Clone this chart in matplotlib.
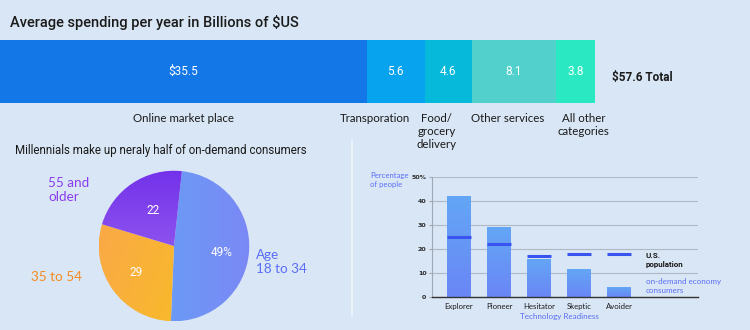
import numpy as np
import matplotlib
matplotlib.use("Agg")
import matplotlib.pyplot as plt
from matplotlib.colors import to_rgb

# spending per year, billions of $US
spend_labels = ["Online market place", "Transporation", "Food/\ngrocery\ndelivery",
                "Other services", "All other\ncategories"]
spend_values = [35.5, 5.6, 4.6, 8.1, 3.8]
spend_text = ["$35.5", "5.6", "4.6", "8.1", "3.8"]
spend_colors = ["#1477e8", "#08a3ee", "#06b8da", "#52d0cc", "#2ae8c2"]
# small sideways nudges so neighbouring captions don't collide
label_shift = [0, -2.0, -1.1, -0.6, 0.8]

# on-demand consumers by age
age_groups = ["Age\n18 to 34", "35 to 54", "55 and\nolder"]
age_shares = [49, 29, 22]
age_text = ["49%", "29", "22"]

# technology readiness
readiness = ["Explorer", "Pioneer", "Hesitator", "Skeptic", "Avoider"]
consumers = [42, 29, 15.5, 11.5, 4]
us_population = [25, 22, 17, 18, 18]

BG = "#d9e6f5"
W, H = 750, 330

fig = plt.figure(figsize=(7.5, 3.3), dpi=100, facecolor=BG)


def fx(x):
    return x / W


def fy(y):
    return 1 - y / H


def box(x0, y0, x1, y1):
    return [fx(x0), fy(y1), (x1 - x0) / W, (y1 - y0) / H]


def gradient(c1, c2, angle, n=200):
    # linear blend from c1 to c2 along the given direction (degrees)
    a = np.deg2rad(angle)
    xs, ys = np.meshgrid(np.linspace(-1, 1, n), np.linspace(-1, 1, n))
    t = (xs * np.cos(a) + ys * np.sin(a))
    t = (t - t.min()) / (t.max() - t.min())
    c1, c2 = np.array(to_rgb(c1)), np.array(to_rgb(c2))
    return c1 + (c2 - c1) * t[..., None]


# ---- stacked spending bar ----
fig.text(fx(10), fy(22), "Average spending per year in Billions of $US",
         fontsize=10.5, family="Roboto", weight="medium", color="#1a1a1a", va="center")

total = sum(spend_values)
axb = fig.add_axes(box(0, 40, 595, 103))
axb.set_facecolor(BG)
left = 0
for val, txt, lab, col, dx in zip(spend_values, spend_text, spend_labels,
                                  spend_colors, label_shift):
    axb.barh(0, val, left=left, height=1, color=col, edgecolor="none")
    mid = left + val / 2
    axb.text(mid, 0, txt, ha="center", va="center", color="white",
             fontsize=8.5, family="Roboto")
    axb.text(mid + dx, -0.66, lab, ha="center", va="top", multialignment="center",
             color="#1a1a1a", fontsize=8.3, family="Lato", linespacing=1.2,
             clip_on=False)
    left += val
axb.set_xlim(0, total)
axb.set_ylim(-0.5, 0.5)
axb.axis("off")
fig.text(fx(612), fy(77), f"${total:.1f} Total", fontsize=8.5, family="Roboto",
         weight="bold", color="#1a1a1a", va="center")

# divider between lower panels
fig.add_artist(plt.Line2D([fx(352), fx(352)], [fy(140), fy(316)],
                          color="#eef4fb", lw=1.2))

# ---- age pie ----
fig.text(fx(15), fy(151), "Millennials make up neraly half of on-demand consumers",
         fontsize=8.3, family="Roboto", color="#1a1a1a", va="center")

axp = fig.add_axes(box(98, 170, 250, 322))
wedges, _ = axp.pie(age_shares, startangle=84, counterclock=False, radius=1,
                    wedgeprops=dict(linewidth=0))
pie_grads = [("#5eaaf6", "#7b88f5", 0), ("#fba64c", "#f6c418", -20),
             ("#7332ea", "#a672f2", -90)]
for w, (c1, c2, ang) in zip(wedges, pie_grads):
    w.set_facecolor("none")
    im = axp.imshow(gradient(c1, c2, ang), extent=(-1, 1, -1, 1),
                    origin="lower", zorder=0)
    im.set_clip_path(w)
axp.set_xlim(-1.01, 1.01)
axp.set_ylim(-1.01, 1.01)
axp.axis("off")

inner_pos = [(0.63, -0.09), (-0.5, -0.35), (-0.28, 0.47)]
for (x, y), txt in zip(inner_pos, age_text):
    axp.text(x, y, txt, ha="center", va="center", color="white",
             fontsize=8.5, family="Roboto")

label_px = [(256, 262, "#5a6ef5"), (31, 277, "#f58a22"), (48, 190, "#8a3cf0")]
for (x, y, c), lab in zip(label_px, age_groups):
    fig.text(fx(x), fy(y), lab, fontsize=9.7, family="Lato", color=c,
             va="center", linespacing=1.15)

# ---- technology readiness bars ----
axc = fig.add_axes(box(432, 177, 698, 297))
axc.set_facecolor("none")
xs = np.arange(len(readiness))
bw = 0.6
for x, v in zip(xs, consumers):
    axc.bar(x, v, width=bw, color="none", edgecolor="none")
    axc.imshow(gradient("#6a86f5", "#63a6f6", 90), extent=(x - bw / 2, x + bw / 2, 0, v),
               aspect="auto", origin="lower", zorder=2)
axc.hlines(us_population, xs - bw / 2, xs + bw / 2, colors="#3a55ef", lw=2.2, zorder=3)

axc.set_xlim(-0.675, 5.975)
axc.set_ylim(0, 50)
axc.set_yticks([0, 10, 20, 30, 40, 50])
axc.set_yticklabels(["0", "10", "20", "30", "40", "50%"])
axc.yaxis.grid(True, color="#b0b8c4", lw=0.8)
axc.set_axisbelow(True)
axc.tick_params(axis="y", length=2, labelsize=4.5, colors="#a0a8b4",
                labelcolor="#2a2a2a", pad=2)
for lab in axc.get_yticklabels():
    lab.set_fontweight("bold")
axc.set_xticks(xs)
axc.set_xticklabels(readiness, fontsize=5.6, family="Lato", color="#1a1a1a")
axc.tick_params(axis="x", length=0, pad=4)
for s in ("top", "right"):
    axc.spines[s].set_visible(False)
axc.spines["left"].set_color("#a0a8b4")
axc.spines["bottom"].set_color("#333333")
axc.spines["bottom"].set_linewidth(1)
axc.set_xlabel("Technology Readiness", fontsize=5.8, family="Lato", color="#5a6ef5",
               labelpad=1)
axc.xaxis.set_label_coords(0.48, -0.13)

fig.text(fx(370), fy(180), "Percentage\nof people", fontsize=5.6, family="Lato",
         color="#5a6ef5", va="center", linespacing=1.2)
fig.text(fx(646), fy(260), "U.S.\npopulation", fontsize=5.8, family="Roboto",
         weight="bold", color="#1a1a1a", va="center", linespacing=1.2)
fig.text(fx(646), fy(286), "on-demand economy\nconsumers", fontsize=5.8, family="Lato",
         color="#5a6ef5", va="center", linespacing=1.2)

fig.savefig("out.png", dpi=100, facecolor=BG)
